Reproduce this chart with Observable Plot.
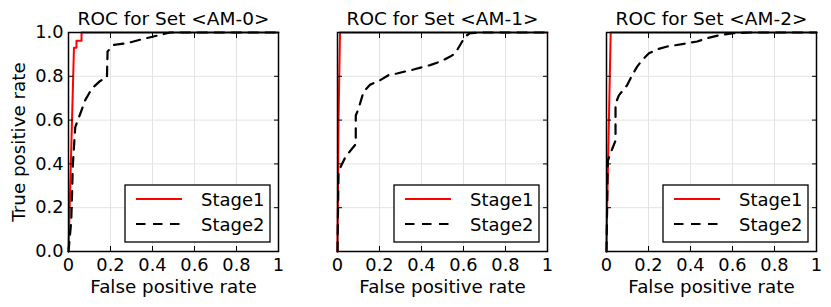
<!DOCTYPE html>
<html><head><meta charset="utf-8">
<script src="https://cdn.jsdelivr.net/npm/d3@7"></script>
<script src="https://cdn.jsdelivr.net/npm/@observablehq/plot@0.6"></script>
<style>
body{margin:0;background:#fff;}
#chart{position:relative;width:831px;height:307px;font-family:"DejaVu Sans";}
#chart svg{position:absolute;top:0;}
</style></head><body><div id="chart"></div>
<script>
const setNames = ["AM-0", "AM-1", "AM-2"];
const seriesNames = ["Stage1", "Stage2"];
const xTicks = [0, 0.2, 0.4, 0.6, 0.8, 1];
const yTicks = [0, 0.2, 0.4, 0.6, 0.8, 1];

// AM-0
const am0Stage1Fpr = [0, 0.026, 0.038, 0.038, 0.062, 0.062, 1];
const am0Stage1Tpr = [0, 0.930, 0.930, 0.962, 0.962, 1, 1];
const am0Stage2Fpr = [0, 0.013, 0.021, 0.032, 0.056, 0.079, 0.111, 0.151, 0.183, 0.186, 0.214, 0.278, 0.357, 0.437, 0.484, 1];
const am0Stage2Tpr = [0, 0.138, 0.400, 0.567, 0.629, 0.690, 0.744, 0.779, 0.794, 0.913, 0.943, 0.951, 0.971, 0.989, 1, 1];
// AM-1
const am1Stage1Fpr = [0, 0.005, 0.012, 1];
const am1Stage1Tpr = [0, 0.6, 1, 1];
const am1Stage2Fpr = [0, 0.005, 0.013, 0.037, 0.068, 0.087, 0.087, 0.100, 0.124, 0.156, 0.203, 0.243, 0.283, 0.362, 0.441, 0.489, 0.537, 0.560, 0.584, 0.608, 0.632, 0.679, 1];
const am1Stage2Tpr = [0, 0.368, 0.383, 0.430, 0.468, 0.490, 0.621, 0.652, 0.729, 0.762, 0.782, 0.805, 0.813, 0.831, 0.851, 0.867, 0.890, 0.905, 0.943, 0.982, 0.997, 1, 1];
// AM-2
const am2Stage1Fpr = [0, 0.003, 0.020, 1];
const am2Stage1Tpr = [0, 0.2, 1, 1];
const am2Stage2Fpr = [0, 0.006, 0.027, 0.043, 0.043, 0.059, 0.098, 0.122, 0.146, 0.170, 0.202, 0.241, 0.289, 0.368, 0.432, 0.479, 0.543, 0.606, 0.686, 1];
const am2Stage2Tpr = [0, 0.414, 0.468, 0.506, 0.675, 0.713, 0.759, 0.805, 0.844, 0.874, 0.905, 0.923, 0.936, 0.948, 0.959, 0.974, 0.989, 0.997, 1, 1];

const zip = (xs, ys) => xs.map((x, i) => ({fpr: x, tpr: ys[i]}));
const panels = [
  {name: setNames[0], s1: zip(am0Stage1Fpr, am0Stage1Tpr), s2: zip(am0Stage2Fpr, am0Stage2Tpr), left: 0, width: 290, ml: 68, mr: 12, yLabels: true},
  {name: setNames[1], s1: zip(am1Stage1Fpr, am1Stage1Tpr), s2: zip(am1Stage2Fpr, am1Stage2Tpr), left: 290, width: 269, ml: 47, mr: 12, yLabels: false},
  {name: setNames[2], s1: zip(am2Stage1Fpr, am2Stage1Tpr), s2: zip(am2Stage2Fpr, am2Stage2Tpr), left: 559, width: 272, ml: 47, mr: 15, yLabels: false}
];

const container = document.getElementById("chart");
const blank = () => "";
const dash = "9.5,7.5";
const labelSize = 18.3;

for (const p of panels) {
  const marks = [
    Plot.gridX({ticks: xTicks, stroke: "#e3e3e3", strokeOpacity: 1, strokeWidth: 1}),
    Plot.gridY({ticks: yTicks, stroke: "#e3e3e3", strokeOpacity: 1, strokeWidth: 1}),
    Plot.line(p.s1, {x: "fpr", y: "tpr", stroke: "red", strokeWidth: 2}),
    Plot.line(p.s2, {x: "fpr", y: "tpr", stroke: "black", strokeWidth: 2.2, strokeDasharray: dash}),
    Plot.frame({stroke: "black", strokeWidth: 1.5}),
    Plot.axisX({ticks: xTicks, anchor: "bottom", tickSize: -5, tickFormat: blank, label: null}),
    Plot.axisX({ticks: xTicks, anchor: "top", tickSize: -5, tickFormat: blank, label: null}),
    Plot.axisY({ticks: yTicks, anchor: "left", tickSize: -5, tickFormat: blank, label: null}),
    Plot.axisY({ticks: yTicks, anchor: "right", tickSize: -5, tickFormat: blank, label: null}),
    Plot.axisX({ticks: xTicks, anchor: "bottom", tickSize: 0, tickPadding: 7, tickFormat: d => String(d), label: null}),
    Plot.text([`ROC for Set <${p.name}>`], {text: d => d, frameAnchor: "top", textAnchor: "middle", lineAnchor: "top", dy: -20.3, fontSize: 18.5, fill: "black"}),
    Plot.text(["False positive rate"], {text: d => d, frameAnchor: "bottom", textAnchor: "middle", lineAnchor: "top", dy: 28, fontSize: labelSize, fill: "black"})
  ];
  if (p.yLabels) {
    marks.push(Plot.axisY({ticks: yTicks, anchor: "left", tickSize: 0, tickPadding: 5, tickFormat: d3.format(".1f"), label: null}));
    marks.push(Plot.text(["True positive rate"], {text: d => d, frameAnchor: "left", textAnchor: "middle", lineAnchor: "middle", rotate: -90, dx: -49, fontSize: labelSize, fill: "black"}));
  }
  const plot = Plot.plot({
    width: p.width, height: 307,
    marginTop: 32, marginBottom: 56, marginLeft: p.ml, marginRight: p.mr,
    style: {fontFamily: "DejaVu Sans", fontSize: "17.8px", background: "transparent", overflow: "visible", color: "black"},
    x: {domain: [0, 1]},
    y: {domain: [0, 1]},
    marks
  });
  plot.style.left = p.left + "px";
  container.appendChild(plot);

  // legend
  const xr = plot.scale("x").range, yr = plot.scale("y").range;
  const right = Math.max(...xr) - 8, bottom = Math.max(...yr) - 9;
  const lw = 145, lh = 57, lx = right - lw, ly = bottom - lh;
  const svg = d3.select(plot);
  const g = svg.append("g").attr("font-family", "DejaVu Sans").style("font-size", "18px").attr("text-anchor", "start");
  g.append("rect").attr("x", lx).attr("y", ly).attr("width", lw).attr("height", lh)
    .attr("fill", "white").attr("stroke", "black").attr("stroke-width", 1.3);
  const entries = [
    {name: seriesNames[0], stroke: "red", dash: null},
    {name: seriesNames[1], stroke: "black", dash: dash}
  ];
  entries.forEach((e, i) => {
    const cy = ly + 14 + i * 25;
    g.append("line").attr("x1", lx + 11).attr("x2", lx + 57).attr("y1", cy).attr("y2", cy)
      .attr("stroke", e.stroke).attr("stroke-width", 2.2).attr("stroke-dasharray", e.dash);
    g.append("text").attr("x", lx + 76).attr("y", cy + 7).attr("fill", "black").attr("text-anchor", "start").text(e.name);
  });
}
</script></body></html>
